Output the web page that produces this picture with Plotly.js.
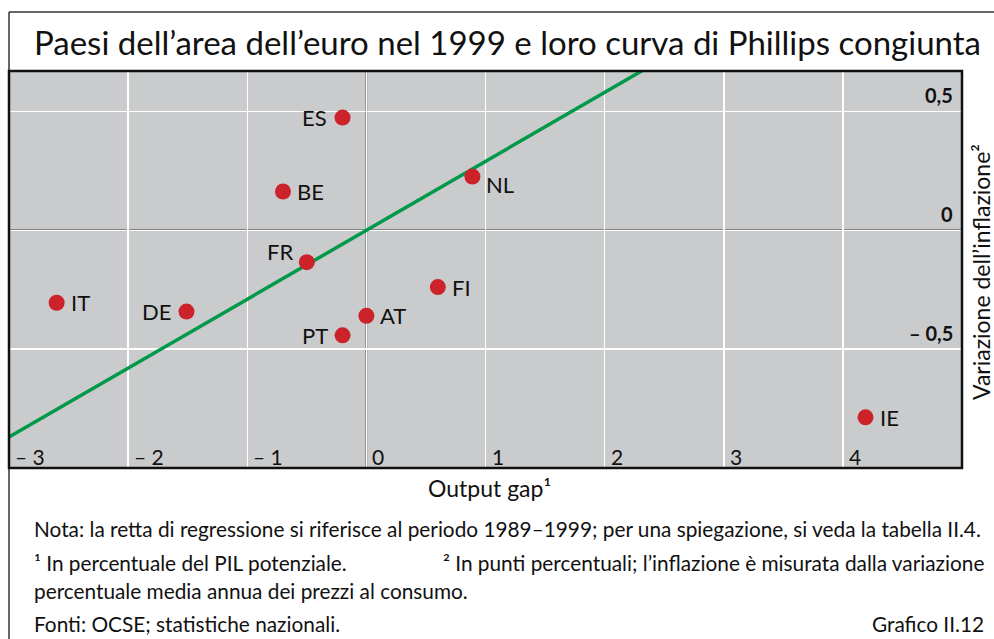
<!DOCTYPE html>
<html>
<head>
<meta charset="utf-8">
<script src="https://cdn.plot.ly/plotly-3.0.1.min.js"></script>
<style>
html,body{margin:0;padding:0;background:#fff;}
#chart{width:994px;height:639px;}
</style>
</head>
<body>
<div id="chart"></div>
<script>
// ---- Data ----
const countries = ["ES", "BE", "NL", "FR", "IT", "DE", "FI", "AT", "PT", "IE"];
const outputGap = [-0.20, -0.70, 0.89, -0.50, -2.60, -1.51, 0.60, 0.00, -0.20, 4.19];
const inflationChange = [0.474, 0.163, 0.226, -0.134, -0.305, -0.342, -0.239, -0.360, -0.442, -0.787];
const regressionX = [-3, 3];
const regressionY = [-0.87, 0.87];
const xTickVals = [-3, -2, -1, 0, 1, 2, 3, 4];
const xTickText = ["– 3", "– 2", "– 1", "0", "1", "2", "3", "4"];
const yTickVals = [0.5, 0, -0.5];
const yTickText = ["0,5", "0", "– 0,5"];

// ---- Style ----
const FONT = "Lato, 'Open Sans', sans-serif";
const W = 994, H = 639;
const M = {l: 9, r: 32, t: 71, b: 171};
const PW = W - M.l - M.r, PH = H - M.t - M.b;
const px = x => (x - M.l) / PW;
const py = y => (H - M.b - y) / PH;

// label placement style per country: [side, dx, dy]
const labelStyle = {
  ES: ["left", -14, 0], BE: ["right", 12, 0], NL: ["right", 12, -8],
  FR: ["left", -12, 11], IT: ["right", 12, 0], DE: ["left", -14, 0],
  FI: ["right", 12, 0], AT: ["right", 12, 0], PT: ["left", -13, 0],
  IE: ["right", 12, 0]
};

const traces = [
  {x: regressionX, y: regressionY, mode: "lines", type: "scatter",
   line: {color: "#00994a", width: 3.5}, hoverinfo: "skip", showlegend: false},
  {x: outputGap, y: inflationChange, mode: "markers", type: "scatter",
   marker: {color: "#cc2229", size: 16}, showlegend: false, cliponaxis: false}
];

const annotations = [];
countries.forEach((c, i) => {
  const s = labelStyle[c];
  annotations.push({x: outputGap[i], y: inflationChange[i], xref: "x", yref: "y",
    text: c, showarrow: false, xanchor: s[0] === "left" ? "right" : "left", yanchor: "middle",
    xshift: s[1], yshift: s[2], font: {family: FONT, size: 22, color: "#111"}});
});
xTickVals.forEach((v, i) => {
  annotations.push({x: v, y: py(456), xref: "x", yref: "paper", text: xTickText[i],
    showarrow: false, xanchor: "left", yanchor: "middle", xshift: 4,
    font: {family: FONT, size: 21, color: "#111"}});
});
yTickVals.forEach((v, i) => {
  annotations.push({x: px(955), y: v, xref: "paper", yref: "y", text: "<b>" + yTickText[i] + "</b>",
    showarrow: false, xanchor: "right", yanchor: "middle", yshift: 16,
    font: {family: FONT, size: 20, color: "#111"}});
});
// titles and notes
annotations.push({x: px(32), y: py(42), xref: "paper", yref: "paper", xanchor: "left", yanchor: "middle",
  text: "Paesi dell’area dell’euro nel 1999 e loro curva di Phillips congiunta", showarrow: false,
  font: {family: FONT, size: 33, color: "#111"}});
annotations.push({x: px(490), y: py(488), xref: "paper", yref: "paper", xanchor: "center", yanchor: "middle",
  text: "Output gap¹", showarrow: false, font: {family: FONT, size: 23, color: "#111"}});
annotations.push({x: px(981), y: py(272), xref: "paper", yref: "paper", xanchor: "center", yanchor: "middle",
  text: "Variazione dell’inflazione²", textangle: -90, showarrow: false,
  font: {family: FONT, size: 23, color: "#111"}});
const noteFont = {family: FONT, size: 20.8, color: "#111"};
annotations.push({x: px(32), y: py(528), xref: "paper", yref: "paper", xanchor: "left", yanchor: "middle",
  text: "Nota: la retta di regressione si riferisce al periodo 1989–1999; per una spiegazione, si veda la tabella II.4.",
  showarrow: false, font: noteFont});
annotations.push({x: px(32), y: py(562), xref: "paper", yref: "paper", xanchor: "left", yanchor: "middle",
  text: "¹ In percentuale del PIL potenziale.", showarrow: false, font: noteFont});
annotations.push({x: px(986), y: py(562), xref: "paper", yref: "paper", xanchor: "right", yanchor: "middle",
  text: "² In punti percentuali; l’inflazione è misurata dalla variazione", showarrow: false, font: noteFont});
annotations.push({x: px(32), y: py(590), xref: "paper", yref: "paper", xanchor: "left", yanchor: "middle",
  text: "percentuale media annua dei prezzi al consumo.", showarrow: false, font: noteFont});
annotations.push({x: px(32), y: py(623), xref: "paper", yref: "paper", xanchor: "left", yanchor: "middle",
  text: "Fonti: OCSE; statistiche nazionali.", showarrow: false, font: noteFont});
annotations.push({x: px(986), y: py(623), xref: "paper", yref: "paper", xanchor: "right", yanchor: "middle",
  text: "Grafico II.12", showarrow: false, font: noteFont});

const shapes = [
  {type: "line", xref: "paper", yref: "paper", x0: px(9), x1: px(994), y0: py(12), y1: py(12),
   line: {color: "#333", width: 1.5}},
  {type: "line", xref: "paper", yref: "paper", x0: px(9), x1: px(9), y0: py(12), y1: py(639),
   line: {color: "#333", width: 1.5}},
  {type: "line", xref: "x", yref: "paper", x0: 0, x1: 0, y0: 0, y1: 1, layer: "below",
   line: {color: "#3a3a3a", width: 1.5}},
  {type: "line", xref: "paper", yref: "y", x0: 0, x1: 1, y0: 0, y1: 0, layer: "below",
   line: {color: "#3a3a3a", width: 1.5}},
  {type: "rect", xref: "paper", yref: "paper", x0: 0, x1: 1, y0: 0, y1: 1,
   line: {color: "#111", width: 2.5}}
];

const layout = {
  width: W, height: H, margin: M, paper_bgcolor: "#fff", plot_bgcolor: "#cacbcd",
  showlegend: false,
  xaxis: {range: [-3, 5], tickvals: xTickVals, showticklabels: false, showgrid: true,
    gridcolor: "#fff", gridwidth: 1.5, zeroline: false, showline: false, ticks: ""},
  yaxis: {range: [-1, 0.67], tickvals: yTickVals, showticklabels: false, showgrid: true,
    gridcolor: "#fff", gridwidth: 1.5, zeroline: false, showline: false, ticks: ""},
  annotations: annotations, shapes: shapes
};
Plotly.newPlot("chart", traces, layout, {displayModeBar: false, staticPlot: true});
</script>
</body>
</html>
